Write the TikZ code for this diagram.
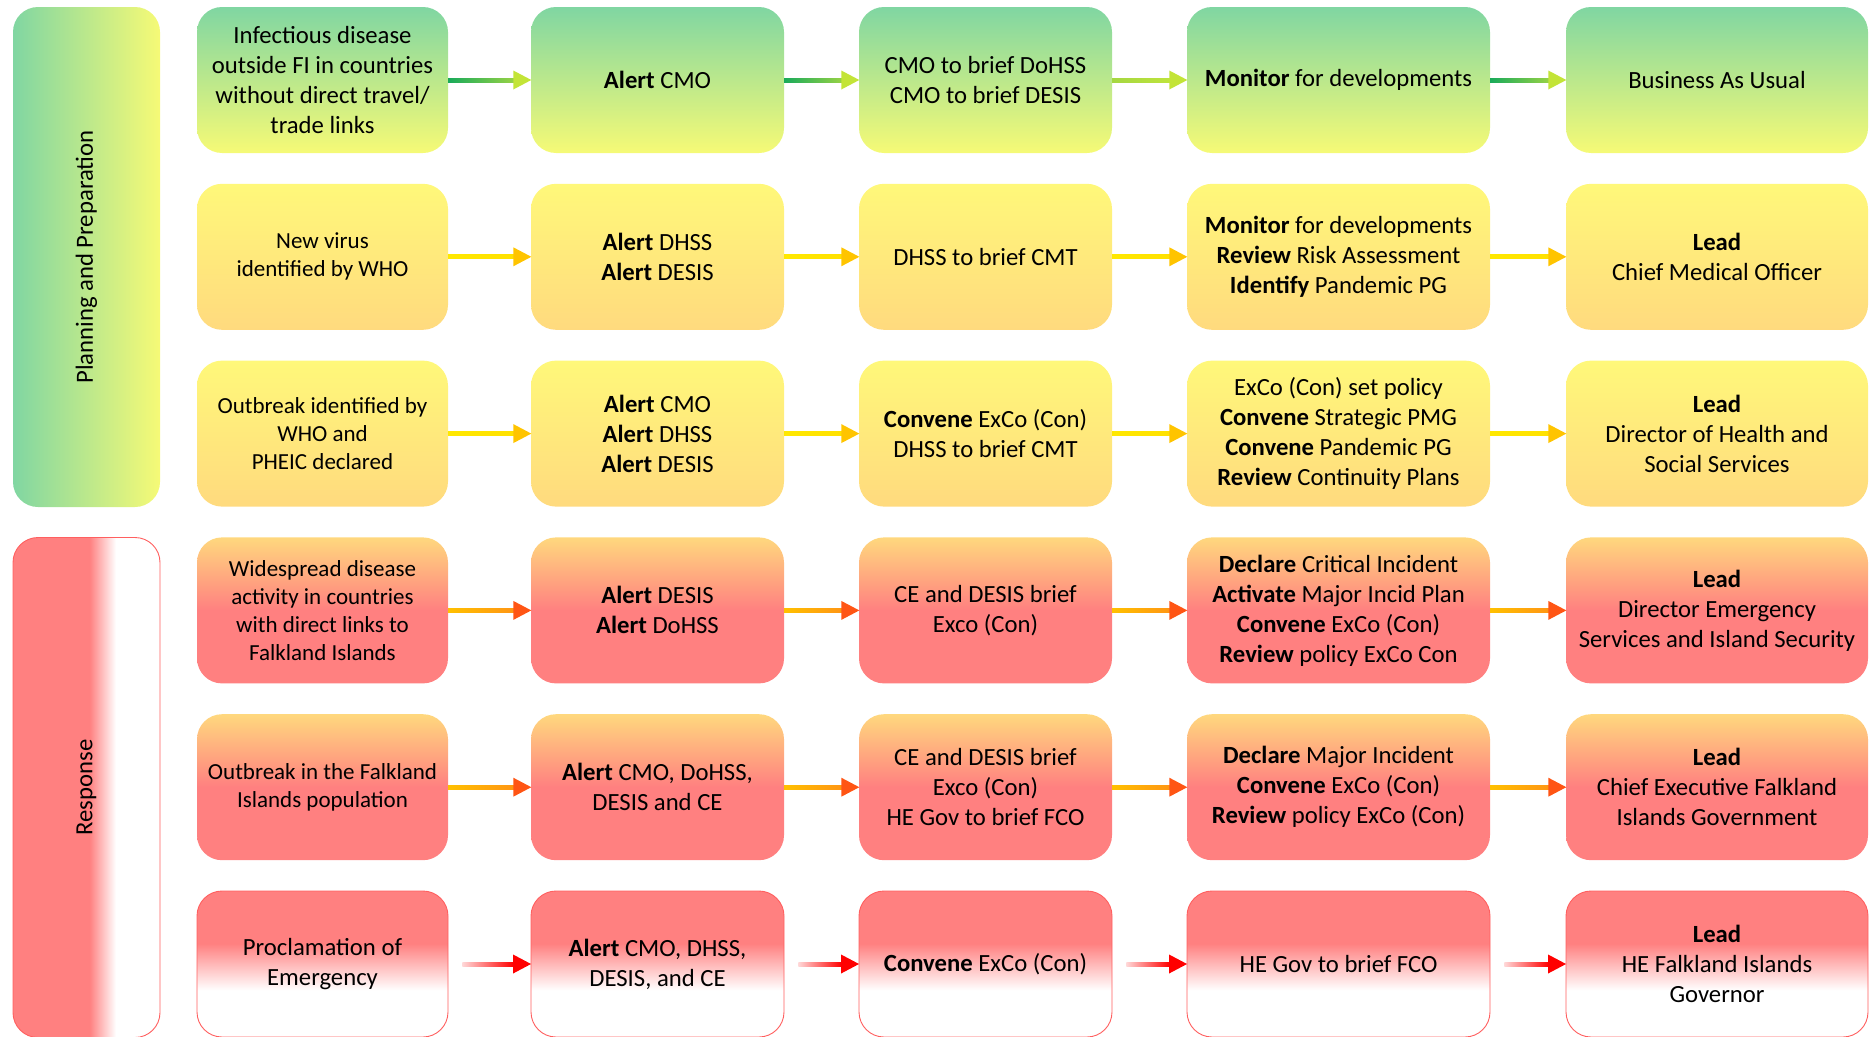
\documentclass[tikz,border=0pt]{standalone}
\usepackage{fontspec}
\setmainfont{Carlito}
\usetikzlibrary{calc}
\definecolor{grT}{RGB}{128,214,162}
\definecolor{grB}{RGB}{246,250,118}
\definecolor{ylT}{RGB}{255,248,122}
\definecolor{ylB}{RGB}{255,218,126}
\definecolor{orT}{RGB}{255,216,126}
\definecolor{pk}{RGB}{255,128,128}
\definecolor{pkline}{RGB}{255,95,95}
\definecolor{arGa}{RGB}{25,170,90}
\definecolor{arGb}{RGB}{150,210,70}
\definecolor{arGc}{RGB}{165,215,65}
\definecolor{arGd}{RGB}{190,228,60}
\definecolor{arGh}{RGB}{195,228,55}
\definecolor{arYa}{RGB}{255,232,0}
\definecolor{arYb}{RGB}{255,225,0}
\definecolor{arYh}{RGB}{255,196,0}
\definecolor{arOa}{RGB}{255,192,0}
\definecolor{arOb}{RGB}{255,150,20}
\definecolor{arOh}{RGB}{255,85,20}
\definecolor{arRa}{RGB}{255,215,215}
\definecolor{arRb}{RGB}{255,0,0}
\definecolor{arRh}{RGB}{255,0,0}
\pgfdeclareverticalshading{orpk}{100bp}{color(0bp)=(pk); color(25bp)=(pk); color(50bp)=(pk); color(75bp)=(orT); color(100bp)=(orT)}
\pgfdeclareverticalshading{pkwh}{100bp}{color(0bp)=(white); color(41bp)=(white); color(57bp)=(pk); color(100bp)=(pk)}
\pgfdeclarehorizontalshading{bandsh}{100bp}{color(0bp)=(pk); color(51bp)=(pk); color(60bp)=(white); color(100bp)=(white)}
\newcommand\fs{\fontsize{24.7}{30}\selectfont}
\newcommand\fss{\fontsize{23}{28.2}\selectfont}
\newcommand\myconn[6]{%
  \shade[left color=#3,right color=#4] ($(#1.east)+(#6,-2)$) rectangle ($(#2.west)+(-17,2)$);
  \fill[#5] ($(#2.west)+(0.5,0)$) -- ++(-18,-9.5) -- ++(0,19) -- cycle;}
\begin{document}
\begin{tikzpicture}[x=1pt,y=-1pt,
  box/.style={rectangle, rounded corners=25pt, minimum height=146pt, align=center, inner sep=0pt, font=\fs, text=black},
  colA/.style={box, minimum width=251pt},
  colB/.style={box, minimum width=253pt},
  colC/.style={box, minimum width=253pt},
  colD/.style={box, minimum width=303pt},
  colE/.style={box, minimum width=302pt},
  small/.style={font=\fss},
  rowgreen/.style={top color=grT, bottom color=grB},
  rowyellow/.style={top color=ylT, bottom color=ylB},
  roworange/.style={shade, shading=orpk},
  rowred/.style={shade, shading=pkwh, draw=pkline, line width=0.9pt},
  band/.style={rectangle, rounded corners=25pt, minimum width=147pt, minimum height=500pt, inner sep=0pt}]
\useasboundingbox (0,0) rectangle (1870,1036);
\clip (0,0) rectangle (1870,1036);
% side bands
\node[band, left color=grT, right color=grB] (b1) at (86.5,257) {};
\node[rotate=90, font=\fs] (b1t) at (b1.center) {Planning and Preparation};
\node[band, shade, shading=bandsh, draw=pkline, line width=0.9pt] (b2) at (86.5,787.5) {};
\node[rotate=90, font=\fs] (b2t) at (b2.center) {Response};
% row 1
\node[colA, rowgreen] (r1c1) at (322.5,80) {Infectious disease\\outside FI in countries\\without direct travel/\\trade links};
\node[colB, rowgreen] (r1c2) at (657.5,80) {\textbf{Alert} CMO};
\node[colC, rowgreen] (r1c3) at (985.5,80) {CMO to brief DoHSS\\CMO to brief DESIS};
\node[colD, rowgreen] (r1c4) at (1338.5,80) {\textbf{Monitor} for developments};
\node[colE, rowgreen] (r1c5) at (1717,80) {Business As Usual};
% row 2
\node[colA, small, rowyellow] (r2c1) at (322.5,256.8) {New virus\\identified by WHO};
\node[colB, rowyellow] (r2c2) at (657.5,256.8) {\textbf{Alert} DHSS\\\textbf{Alert} DESIS};
\node[colC, rowyellow] (r2c3) at (985.5,256.8) {DHSS to brief CMT};
\node[colD, rowyellow] (r2c4) at (1338.5,256.8) {\textbf{Monitor} for developments\\\textbf{Review} Risk Assessment\\\textbf{Identify} Pandemic PG};
\node[colE, rowyellow] (r2c5) at (1717,256.8) {\textbf{Lead}\\Chief Medical Officer};
% row 3
\node[colA, small, rowyellow] (r3c1) at (322.5,433.6) {Outbreak identified by\\WHO and\\PHEIC declared};
\node[colB, rowyellow] (r3c2) at (657.5,433.6) {\textbf{Alert} CMO\\\textbf{Alert} DHSS\\\textbf{Alert} DESIS};
\node[colC, rowyellow] (r3c3) at (985.5,433.6) {\textbf{Convene} ExCo (Con)\\DHSS to brief CMT};
\node[colD, rowyellow] (r3c4) at (1338.5,433.6) {ExCo (Con) set policy\\\textbf{Convene} Strategic PMG\\\textbf{Convene} Pandemic PG\\\textbf{Review} Continuity Plans};
\node[colE, rowyellow] (r3c5) at (1717,433.6) {\textbf{Lead}\\Director of Health and\\Social Services};
% row 4
\node[colA, small, roworange] (r4c1) at (322.5,610.4) {Widespread disease\\activity in countries\\with direct links to\\Falkland Islands};
\node[colB, roworange] (r4c2) at (657.5,610.4) {\textbf{Alert} DESIS\\\textbf{Alert} DoHSS};
\node[colC, roworange] (r4c3) at (985.5,610.4) {CE and DESIS brief\\Exco (Con)};
\node[colD, roworange] (r4c4) at (1338.5,610.4) {\textbf{Declare} Critical Incident\\\textbf{Activate} Major Incid Plan\\\textbf{Convene} ExCo (Con)\\\textbf{Review} policy ExCo Con};
\node[colE, roworange] (r4c5) at (1717,610.4) {\textbf{Lead}\\Director Emergency\\Services and Island Security};
% row 5
\node[colA, small, roworange] (r5c1) at (322.5,787.2) {Outbreak in the Falkland\\Islands population};
\node[colB, roworange] (r5c2) at (657.5,787.2) {\textbf{Alert} CMO, DoHSS,\\DESIS and CE};
\node[colC, roworange] (r5c3) at (985.5,787.2) {CE and DESIS brief\\Exco (Con)\\HE Gov to brief FCO};
\node[colD, roworange] (r5c4) at (1338.5,787.2) {\textbf{Declare} Major Incident\\\textbf{Convene} ExCo (Con)\\\textbf{Review} policy ExCo (Con)};
\node[colE, roworange] (r5c5) at (1717,787.2) {\textbf{Lead}\\Chief Executive Falkland\\Islands Government};
% row 6
\node[colA, rowred] (r6c1) at (322.5,964) {Proclamation of\\Emergency};
\node[colB, rowred] (r6c2) at (657.5,964) {\textbf{Alert} CMO, DHSS,\\DESIS, and CE};
\node[colC, rowred] (r6c3) at (985.5,964) {\textbf{Convene} ExCo (Con)};
\node[colD, rowred] (r6c4) at (1338.5,964) {HE Gov to brief FCO};
\node[colE, rowred] (r6c5) at (1717,964) {\textbf{Lead}\\HE Falkland Islands\\Governor};
% connectors
\myconn{r1c1}{r1c2}{arGa}{arGb}{arGh}{0}
\myconn{r1c2}{r1c3}{arGa}{arGb}{arGh}{0}
\myconn{r1c3}{r1c4}{arGc}{arGd}{arGh}{0}
\myconn{r1c4}{r1c5}{arGa}{arGb}{arGh}{0}
\foreach \a/\b in {1/2,2/3,3/4,4/5}{
  \myconn{r2c\a}{r2c\b}{arYa}{arYb}{arYh}{0}
  \myconn{r3c\a}{r3c\b}{arYa}{arYb}{arYh}{0}
  \myconn{r4c\a}{r4c\b}{arOa}{arOb}{arOh}{0}
  \myconn{r5c\a}{r5c\b}{arOa}{arOb}{arOh}{0}
  \myconn{r6c\a}{r6c\b}{arRa}{arRb}{arRh}{14}
}
\end{tikzpicture}
\end{document}
